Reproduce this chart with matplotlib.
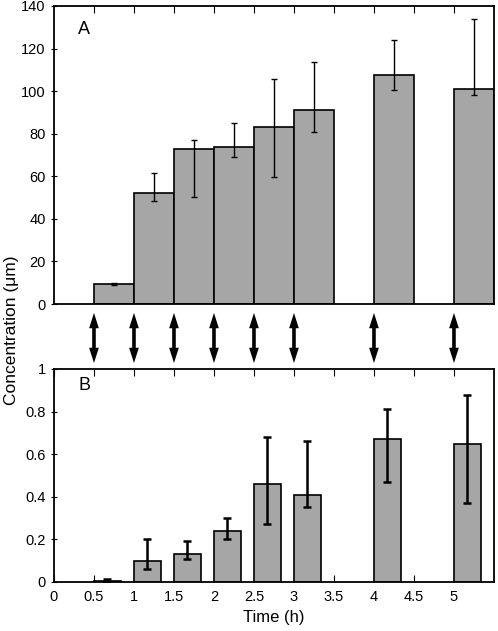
import numpy as np
import matplotlib
matplotlib.use("Agg")
import matplotlib.pyplot as plt

plt.rcParams['font.family'] = ['Liberation Sans', 'DejaVu Sans']

# panel A
times_a = [0.5, 1.0, 1.5, 2.0, 2.5, 3.0, 4.0, 5.0]
conc_a = [9.3, 52.2, 72.9, 73.8, 83.0, 91.2, 107.4, 100.9]
err_a_hi = [9.8, 61.5, 77.1, 84.9, 105.6, 113.7, 124.2, 133.7]
err_a_lo = [8.8, 48.3, 50.5, 69.1, 59.7, 80.7, 100.6, 98.2]

# panel B
times_b = [0.5, 1.0, 1.5, 2.0, 2.5, 3.0, 4.0, 5.0]
conc_b = [0.005, 0.10, 0.13, 0.24, 0.46, 0.41, 0.67, 0.65]
err_b_hi = [0.015, 0.20, 0.19, 0.30, 0.68, 0.66, 0.81, 0.88]
err_b_lo = [0.0, 0.06, 0.11, 0.20, 0.27, 0.35, 0.47, 0.37]

xticks = [0, 0.5, 1, 1.5, 2, 2.5, 3, 3.5, 4, 4.5, 5]
xticklabels = ['0', '0.5', '1', '1.5', '2', '2.5', '3', '3.5', '4', '4.5', '5']

bar_color = '#a6a6a6'

fig = plt.figure(figsize=(4.98, 6.31), dpi=100)
ax1 = fig.add_axes([0.1084, 0.5182, 0.8835, 0.4723])
ax2 = fig.add_axes([0.1084, 0.0777, 0.8835, 0.3376])

# A
w_a = 0.5
ax1.bar(times_a, conc_a, width=w_a, align='edge', color=bar_color,
        edgecolor='black', linewidth=1.2, zorder=2)
ca = np.array(conc_a)
yerr_a = [ca - np.array(err_a_lo), np.array(err_a_hi) - ca]
ax1.errorbar(np.array(times_a) + w_a / 2, conc_a, yerr=yerr_a, fmt='none',
             ecolor='black', elinewidth=1.0, capsize=2.5, capthick=1.0, zorder=3)
ax1.set_xlim(0, 5.5)
ax1.set_ylim(0, 140)
ax1.set_yticks(range(0, 141, 20))
ax1.set_xticks(xticks[1:])
ax1.tick_params(axis='x', which='both', top=True, bottom=False,
                labelbottom=False, direction='in', length=5)
ax1.tick_params(axis='y', direction='inout', length=5, labelsize=10.5)
ax1.text(0.055, 0.92, 'A', transform=ax1.transAxes, fontsize=13,
         ha='left', va='center')

# double arrows between panels: two half arrows from the middle outward
trans = ax1.get_xaxis_transform()
arrow_kw = dict(width=2.6, headwidth=7.0, headlength=11.0, shrink=0.0,
                facecolor='black', edgecolor='none')
for t in times_a:
    for end in (-0.03, -0.198):
        ax1.annotate('', xy=(t, end), xytext=(t, -0.114),
                     xycoords=trans, textcoords=trans,
                     annotation_clip=False, arrowprops=arrow_kw)

# B
w_b = 0.335
ax2.bar(times_b, conc_b, width=w_b, align='edge', color=bar_color,
        edgecolor='black', linewidth=1.2, zorder=2)
cb = np.array(conc_b)
yerr_b = [cb - np.array(err_b_lo), np.array(err_b_hi) - cb]
ax2.errorbar(np.array(times_b) + w_b / 2, conc_b, yerr=yerr_b, fmt='none',
             ecolor='black', elinewidth=1.8, capsize=3.2, capthick=1.8, zorder=3)
ax2.set_xlim(0, 5.5)
ax2.set_ylim(0, 1)
ax2.set_yticks([0, 0.2, 0.4, 0.6, 0.8, 1])
ax2.set_yticklabels(['0', '0.2', '0.4', '0.6', '0.8', '1'])
ax2.set_xticks(xticks)
ax2.set_xticklabels(xticklabels)
ax2.tick_params(axis='x', which='both', top=True, bottom=True,
                direction='in', length=5, labelsize=10.5, pad=6)
ax2.tick_params(axis='y', direction='inout', length=5, labelsize=10.5)
ax2.text(0.055, 0.92, 'B', transform=ax2.transAxes, fontsize=13,
         ha='left', va='center')
ax2.set_xlabel('Time (h)', fontsize=12)

for ax in (ax1, ax2):
    for s in ax.spines.values():
        s.set_linewidth(1.3)

fig.text(0.024, 0.477, 'Concentration (μm)', rotation=90, fontsize=12.5,
         ha='center', va='center')

fig.savefig('out.png', dpi=100)
